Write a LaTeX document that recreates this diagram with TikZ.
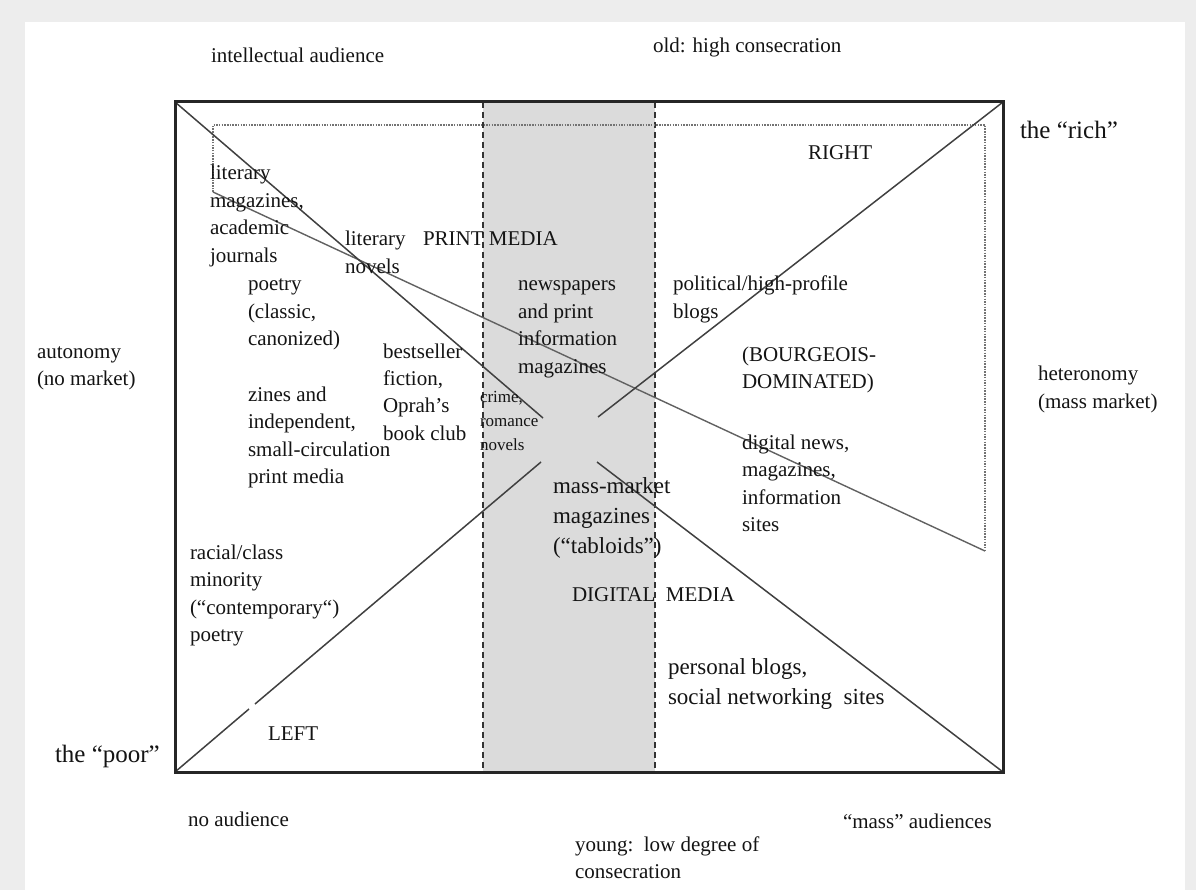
\documentclass[tikz,border=0pt]{standalone}
\usepackage{fontspec}
\setmainfont{Liberation Serif}
\newcommand{\mlines}[1]{\begin{tabular}[t]{@{}l@{}}#1\end{tabular}}
\begin{document}
\begin{tikzpicture}[x=1pt,y=-1pt,
  lbl/.style={anchor=base west, inner sep=0pt, outer sep=0pt, text=black!92, font=\fontsize{21}{27.5}\selectfont},
  lblbig/.style={lbl, font=\fontsize{23}{30}\selectfont},
  lblsmall/.style={lbl, font=\fontsize{17}{24}\selectfont},
  lblhuge/.style={lbl, font=\fontsize{25}{30}\selectfont},
  frame/.style={line width=3pt, draw=black!85},
  diag/.style={line width=1.5pt, draw=black!75},
  divider/.style={line width=1.5pt, draw=black!80, dash pattern=on 6pt off 4pt},
  dotbox/.style={line width=1.2pt, draw=black!55, dash pattern=on 1.5pt off 1.2pt},
  slant/.style={line width=1.4pt, draw=black!62},
  band/.style={fill=black!14},
]
% page and margins
\fill[black!7] (0,0) rectangle (1196,890);
\fill[white] (25,22) rectangle (1185,890);
\useasboundingbox (0,0) rectangle (1196,890);

% corners
\coordinate (TL) at (175,102);
\coordinate (TR) at (1003,102);
\coordinate (BL) at (175,772);
\coordinate (BR) at (1003,772);

% shaded band
\coordinate (bandTL) at (483,102);
\coordinate (bandBR) at (655,772);
\coordinate (bandBL) at (483,772);
\coordinate (bandTR) at (655,102);
\fill[band] (bandTL) rectangle (bandBR);
\draw[divider] (bandTL) -- (bandBL);
\draw[divider] (bandTR) -- (bandBR);

% dotted field
\coordinate (d1) at (213,192);
\coordinate (d2) at (213,125);
\coordinate (d3) at (985,125);
\coordinate (d4) at (985,551);
\draw[dotbox] (d1) -- (d2) -- (d3) -- (d4);
\draw[slant] (d1) -- (d4);

% big X
\coordinate (xa) at (543,418);
\coordinate (xb) at (541,462);
\coordinate (xc) at (598,417);
\coordinate (xd) at (597,462);
\coordinate (g1) at (249,709);
\coordinate (g2) at (255,704);
\draw[diag] (TL) -- (xa);
\draw[diag] (BL) -- (g1);
\draw[diag] (g2) -- (xb);
\draw[diag] (xc) -- (TR);
\draw[diag] (xd) -- (BR);

% frame
\draw[frame] (TL) rectangle (BR);

% outer labels
\node[lbl] (intel) at (211,63) {intellectual audience};
\node[lbl] (old) at (653,53) {old: high consecration};
\node[lblhuge] (rich) at (1020,139) {the “rich”};
\node[lblhuge] (poor) at (55,762) {the “poor”};
\node[lbl] (auto) at (37,358) {\mlines{autonomy\\(no market)}};
\node[lbl] (hetero) at (1038,381) {\mlines{heteronomy\\(mass market)}};
\node[lbl] (noaud) at (188,826) {no audience};
\node[lbl] (young) at (575,851) {\mlines{young:\ \ low degree of\\consecration}};
\node[lbl] (massaud) at (843,828) {“mass” audiences};

% inner labels
\node[lbl] (right) at (808,160) {RIGHT};
\node[lbl] (litmag) at (210,180) {\mlines{literary\\magazines,\\academic\\journals}};
\node[lbl] (litnov) at (345,246) {\mlines{literary\\novels}};
\node[lbl] (print) at (423,246) {PRINT MEDIA};
\node[lbl] (poetry) at (248,291) {\mlines{poetry\\(classic,\\canonized)}};
\node[lbl] (news) at (518,291) {\mlines{newspapers\\and print\\information\\magazines}};
\node[lbl] (polit) at (673,291) {\mlines{political/high-profile\\blogs}};
\node[lbl] (bourg) at (742,361) {\mlines{(BOURGEOIS-\\DOMINATED)}};
\node[lbl] (best) at (383,358) {\mlines{bestseller\\fiction,\\Oprah’s\\book club}};
\node[lbl] (zines) at (248,401) {\mlines{zines and\\independent,\\small-circulation\\print media}};
\node[lblsmall] (crime) at (480,402) {\mlines{crime,\\romance\\novels}};
\node[lbl] (dnews) at (742,449) {\mlines{digital news,\\magazines,\\information\\sites}};
\node[lblbig] (mass) at (553,493) {\mlines{mass-market\\magazines\\(“tabloids”)}};
\node[lbl] (digital) at (572,601) {DIGITAL\ \ MEDIA};
\node[lbl] (racial) at (190,559) {\mlines{racial/class\\minority\\(“contemporary“)\\poetry}};
\node[lblbig] (pers) at (668,674) {\mlines{personal blogs,\\social networking\ \ sites}};
\node[lbl] (left) at (268,740) {LEFT};
\end{tikzpicture}
\end{document}
